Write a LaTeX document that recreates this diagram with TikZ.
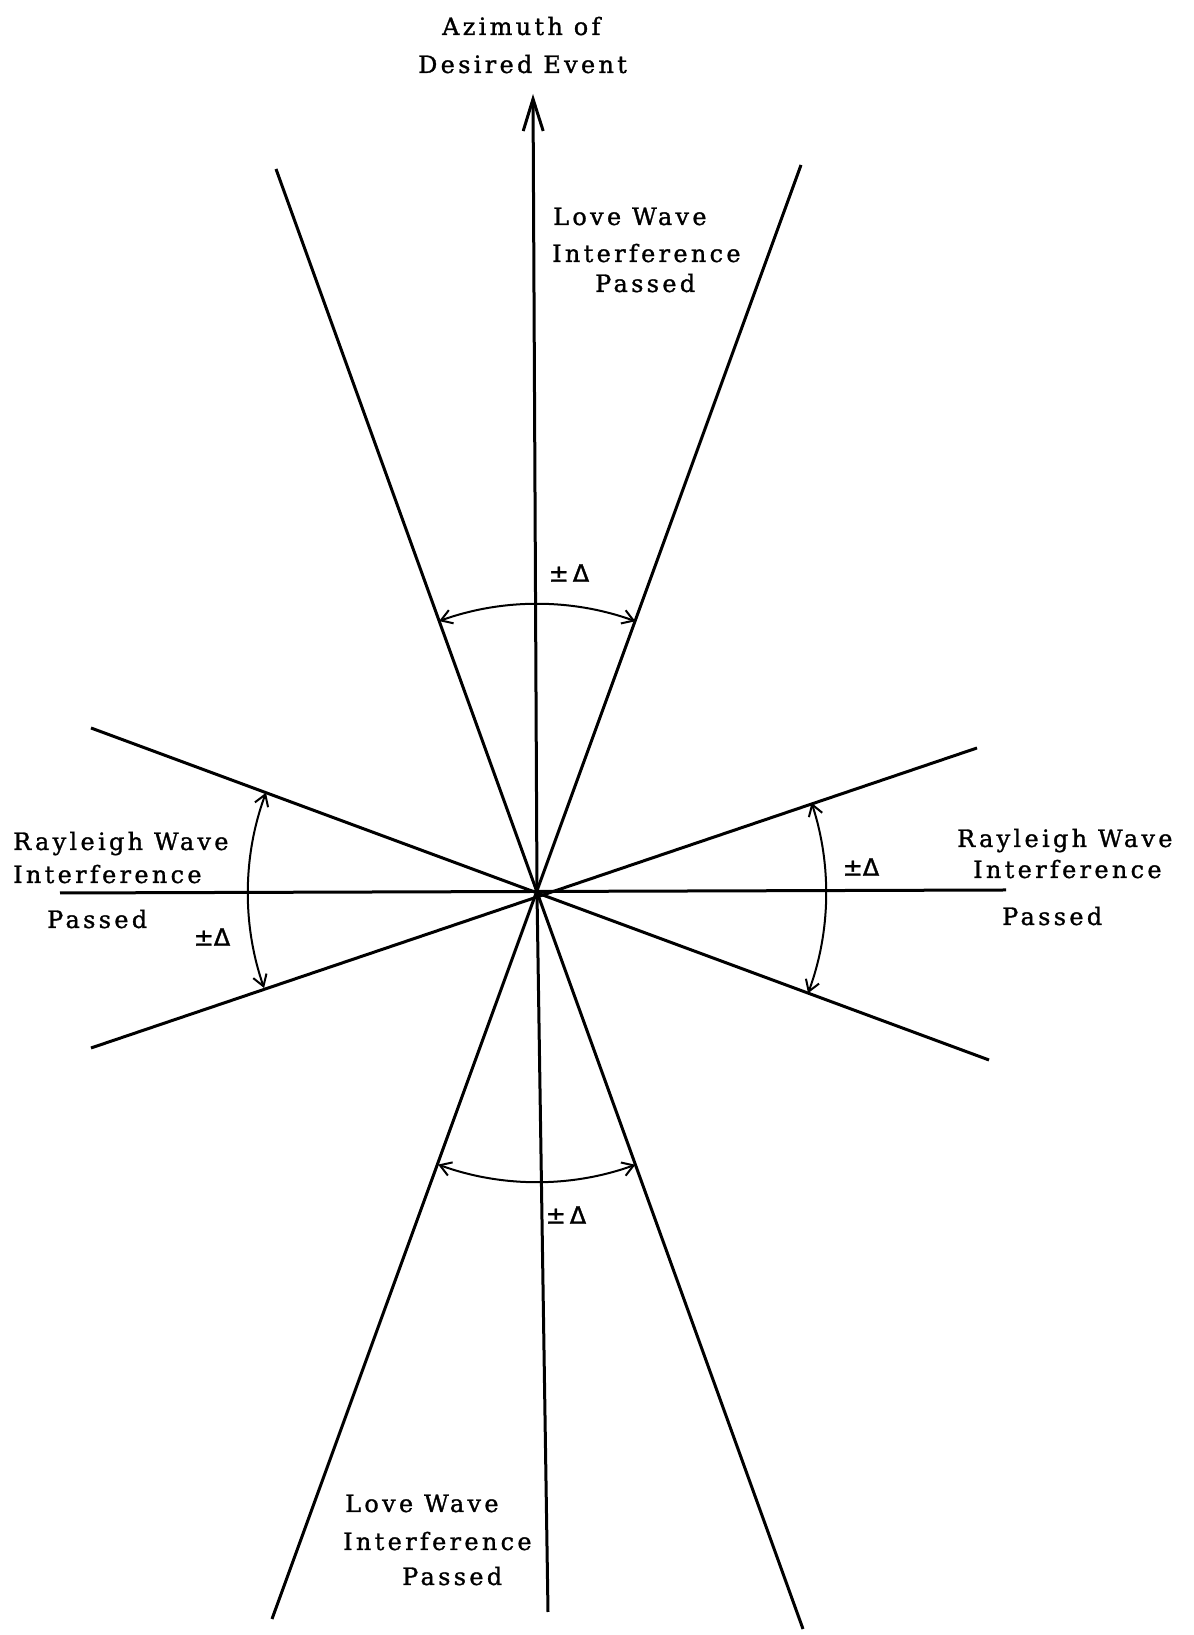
\documentclass[tikz,border=0pt]{standalone}
\usepackage{fontspec}
\setmainfont{DejaVu Serif}[LetterSpace=14,FakeBold=1.2]
\newfontfamily\symfont{DejaVu Sans}[FakeBold=1.5]
\usetikzlibrary{arrows.meta,calc}
\begin{document}
\begin{tikzpicture}[x=1bp,y=1bp,
  ray/.style={line width=3bp},
  sweep/.style={line width=2bp,{Straight Barb[length=11bp,width=14bp]}-{Straight Barb[length=11bp,width=14bp]}},
  lbl/.style={inner sep=0pt,anchor=base west,font=\fontsize{24}{28}\selectfont},
  dlt/.style={inner sep=0pt,font=\symfont\fontsize{24}{28}\selectfont}]
\useasboundingbox (0,0) rectangle (1193,1635);
% centre and ray end points
\coordinate (O) at (537,742);
\coordinate (top) at (533,1541);
\coordinate (bot) at (548,23);
\coordinate (west) at (60,742);
\coordinate (east) at (1006,745);
\coordinate (ul) at (276,1466);
\coordinate (ur) at (801,1470);
\coordinate (ll) at (272,16);
\coordinate (lr) at (803,6);
\coordinate (wu) at (91,907);
\coordinate (wl) at (91,587);
\coordinate (eu) at (977,887);
\coordinate (el) at (989,575);
% rays
\draw[ray,-{Straight Barb[length=32bp,width=20bp]}] (bot) -- (O) -- (top);
\draw[ray] (west) -- (east);
\draw[ray] (ul) -- (lr);
\draw[ray] (ur) -- (ll);
\draw[ray] (wu) -- (el);
\draw[ray] (wl) -- (eu);
% angle arcs
\draw[sweep] ($(O)+(109.8:289)$) arc[start angle=109.8,end angle=70.1,radius=289];
\draw[sweep] ($(O)+(250.0:289)$) arc[start angle=250.0,end angle=289.9,radius=289];
\draw[sweep] ($(O)+(159.7:289)$) arc[start angle=159.7,end angle=199.2,radius=289];
\draw[sweep] ($(O)+(18.2:289)$) arc[start angle=18.2,end angle=-20.3,radius=289];
% labels
\node[lbl] (az1) at (442,1600) {Azimuth of};
\node[lbl] (az2) at (418,1562) {Desired Event};
\node[lbl] (tl1) at (553,1410) {Love Wave};
\node[lbl] (tl2) at (552,1373) {Interference};
\node[lbl] (tl3) at (595,1343) {Passed};
\node[lbl] (bl1) at (345,123) {Love Wave};
\node[lbl] (bl2) at (343,85) {Interference};
\node[lbl] (bl3) at (402,50) {Passed};
\node[lbl] (wr1) at (13,785) {Rayleigh Wave};
\node[lbl] (wr2) at (13,752) {Interference};
\node[lbl] (wr3) at (47,707) {Passed};
\node[lbl] (er1) at (957,788) {Rayleigh Wave};
\node[lbl] (er2) at (973,757) {Interference};
\node[lbl] (er3) at (1002,710) {Passed};
\node[dlt] (dt) at (569,1062) {±\,Δ};
\node[dlt] (db) at (566,420) {±\,Δ};
\node[dlt] (dw) at (212,698) {±Δ};
\node[dlt] (de) at (861,768) {±Δ};
\end{tikzpicture}
\end{document}
